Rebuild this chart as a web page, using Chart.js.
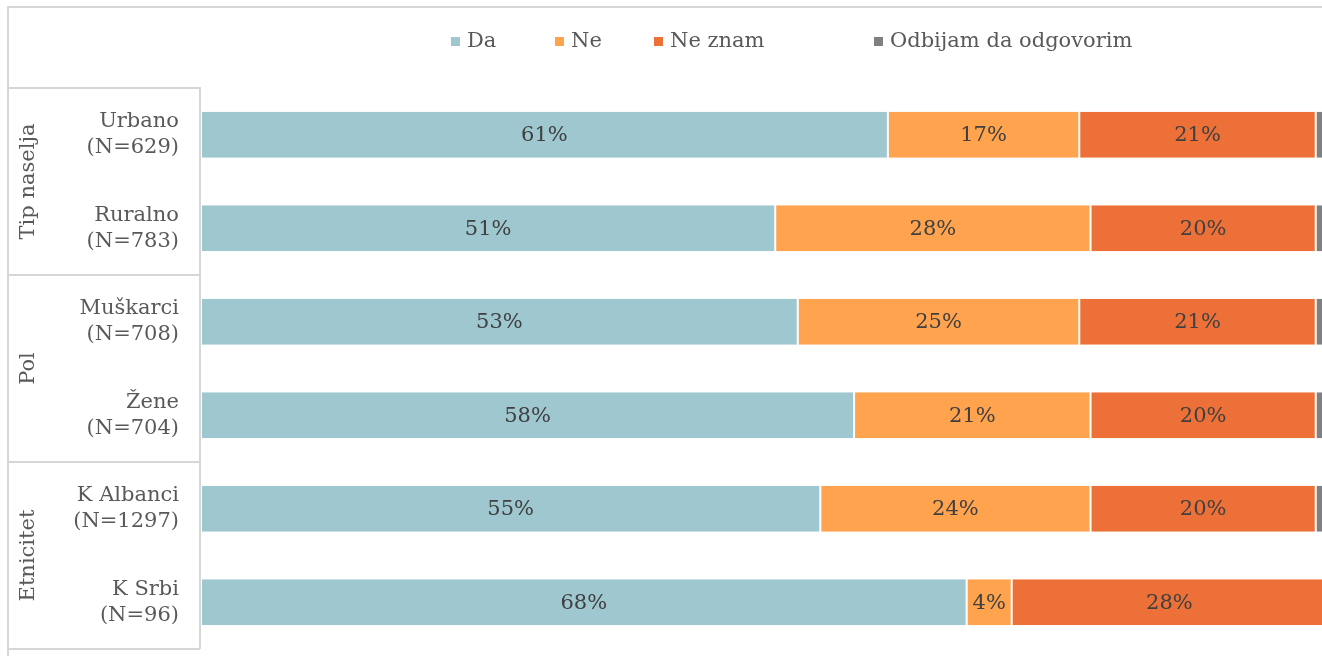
<!DOCTYPE html>
<html>
<head>
<meta charset="utf-8">
<title>Tip naselja, pol, etnicitet</title>
<script src="https://cdn.jsdelivr.net/npm/chart.js@4.4.0/dist/chart.umd.min.js"></script>
<style>
  html, body { margin: 0; padding: 0; background: #fff; overflow: hidden; }
  #wrap { position: relative; width: 1327px; height: 656px; }
</style>
</head>
<body>
<div id="wrap"><canvas id="chart"></canvas></div>
<script>
// Rows, grouped two by two
const categories = [
    ['Urbano', '(N=629)'],
    ['Ruralno', '(N=783)'],
    ['Muškarci', '(N=708)'],
    ['Žene', '(N=704)'],
    ['K Albanci', '(N=1297)'],
    ['K Srbi', '(N=96)']
];
const groups = ['Tip naselja', 'Pol', 'Etnicitet'];

// Answer shares in %
const da      = [61, 51, 53, 58, 55, 68];
const ne      = [17, 28, 25, 21, 24, 4];
const neZnam  = [21, 20, 21, 20, 20, 28];
const odbijam = [1, 1, 1, 1, 1, 0];

const FONT = '"DejaVu Serif", Georgia, serif';
const SIZE = 21;
const TEXT = '#595959';
const LINE = '#d6d6d6';

// Frame around the chart and the grouped label column on the left
const labelFrame = {
    id: 'labelFrame',
    beforeDraw(chart) {
        const { ctx, chartArea } = chart;
        const y = chart.scales.y;
        const per = categories.length / groups.length;
        ctx.save();
        ctx.strokeStyle = LINE;
        ctx.lineWidth = 2;
        ctx.beginPath();
        ctx.moveTo(8, chart.height + 5);
        ctx.lineTo(8, 7);
        ctx.lineTo(chart.width + 5, 7);
        ctx.moveTo(chartArea.left - 1, chartArea.top - 1);
        ctx.lineTo(chartArea.left - 1, chartArea.bottom);
        for (let g = 0; g <= groups.length; g++) {
            const yy = Math.round(y.getPixelForValue(g * per - 0.5));
            ctx.moveTo(8, yy);
            ctx.lineTo(chartArea.left - 1, yy);
        }
        ctx.stroke();

        ctx.fillStyle = TEXT;
        ctx.font = SIZE + 'px ' + FONT;
        ctx.textAlign = 'center';
        ctx.textBaseline = 'middle';
        groups.forEach((name, g) => {
            const yc = y.getPixelForValue(g * per + (per - 1) / 2);
            ctx.save();
            ctx.translate(29, yc);
            ctx.rotate(-Math.PI / 2);
            ctx.fillText(name, 0, 0);
            ctx.restore();
        });
        ctx.restore();
    }
};

// Percent labels in the middle of each segment
const segmentLabels = {
    id: 'segmentLabels',
    afterDatasetsDraw(chart) {
        const { ctx } = chart;
        ctx.save();
        ctx.fillStyle = '#404040';
        ctx.font = SIZE + 'px ' + FONT;
        ctx.textAlign = 'center';
        ctx.textBaseline = 'middle';
        chart.data.datasets.forEach((ds, i) => {
            if (ds.hideValue) return;
            chart.getDatasetMeta(i).data.forEach((bar, j) => {
                const v = ds.data[j];
                if (!v) return;
                ctx.fillText(v + '%', (bar.x + bar.base) / 2, bar.y + 1);
            });
        });
        ctx.restore();
    }
};

// Legend row drawn at fixed columns
const legendRow = {
    id: 'legendRow',
    afterDraw(chart, args, opts) {
        const { ctx } = chart;
        ctx.save();
        ctx.font = SIZE + 'px ' + FONT;
        ctx.textBaseline = 'middle';
        ctx.textAlign = 'left';
        chart.data.datasets.forEach((ds, i) => {
            const x = opts.columns[i];
            ctx.fillStyle = ds.backgroundColor;
            ctx.fillRect(x, opts.y - 5, 9, 9);
            ctx.fillStyle = TEXT;
            ctx.fillText(ds.label, x + 16, opts.y);
        });
        ctx.restore();
    }
};

const barStyle = {
    borderColor: '#ffffff',
    borderWidth: { left: 1, right: 1, top: 0, bottom: 0 },
    borderSkipped: false,
    barPercentage: 0.49,
    categoryPercentage: 1
};

new Chart(document.getElementById('chart'), {
    type: 'bar',
    data: {
        labels: categories,
        datasets: [
            { label: 'Da', data: da, backgroundColor: '#9fc7d0', ...barStyle },
            { label: 'Ne', data: ne, backgroundColor: '#ffa34e', ...barStyle },
            { label: 'Ne znam', data: neZnam, backgroundColor: '#ec7037', ...barStyle },
            { label: 'Odbijam da odgovorim', data: odbijam, backgroundColor: '#808080', hideValue: true, ...barStyle }
        ]
    },
    options: {
        indexAxis: 'y',
        responsive: true,
        maintainAspectRatio: false,
        animation: false,
        layout: { padding: { top: 88, bottom: 7, left: 0, right: 0 } },
        scales: {
            x: { stacked: true, min: 0, max: 100, display: false },
            y: {
                stacked: true,
                grid: { display: false },
                border: { display: false },
                afterFit(scale) {
                    scale.width = 201;
                    scale.paddingTop = 0;
                    scale.paddingBottom = 0;
                },
                ticks: {
                    padding: 14,
                    color: TEXT,
                    font: { family: FONT, size: SIZE, lineHeight: 1.25 }
                }
            }
        },
        plugins: {
            legend: { display: false },
            tooltip: { enabled: false },
            legendRow: { y: 42, columns: [451, 555, 654, 874] }
        }
    },
    plugins: [labelFrame, segmentLabels, legendRow]
});
</script>
</body>
</html>
